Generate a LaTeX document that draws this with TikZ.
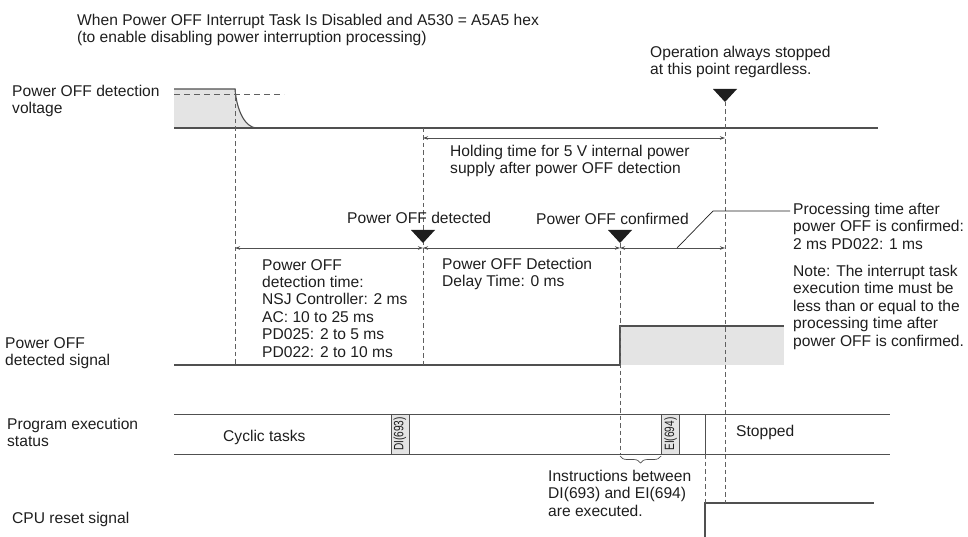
\documentclass[tikz,border=0pt]{standalone}
\usepackage{fontspec}
\setmainfont{Liberation Sans}
\usetikzlibrary{arrows.meta,decorations.pathreplacing}
\definecolor{ln}{HTML}{505050}
\definecolor{fl}{HTML}{E4E4E4}
\definecolor{dsh}{HTML}{606060}
\definecolor{tx}{HTML}{1E1E1E}
\tikzset{
  lbl/.style={anchor=north west, inner sep=0pt, align=left, text=tx, font={\fontsize{15.6}{17.4}\selectfont}},
  sig/.style={draw=ln, line width=1.1pt},
  guide/.style={draw=dsh, line width=0.8pt, dash pattern=on 4.5pt off 3pt},
  dimarrow/.style={draw=ln, line width=0.8pt, {Stealth[length=5pt,width=3.5pt]}-{Stealth[length=5pt,width=3.5pt]}},
  ibox/.style={draw=ln, fill=fl, line width=0.6pt, rotate=90, minimum width=40pt, minimum height=18pt, inner sep=0pt, text=tx, font={\fontsize{13.5}{13.5}\selectfont}},
  tridown/.pic={\fill[tx] (-12,-13) -- (12,-13) -- (0,0) -- cycle;}
}
\begin{document}
\begin{tikzpicture}[x=1pt,y=-1pt]
\useasboundingbox (0,0) rectangle (968,537);

% ---------- guide lines (dashed) ----------
\coordinate (g1top) at (235,89);  \coordinate (g1bot) at (235,365);
\coordinate (g2top) at (423,128); \coordinate (g2bot) at (423,365);
\coordinate (g3top) at (620,243); \coordinate (g3bot) at (620,454);
\coordinate (g4top) at (725,102); \coordinate (g4bot) at (725,503);
\coordinate (g5top) at (705,454); \coordinate (g5bot) at (705,503);

% ---------- Power OFF detection voltage ----------
\fill[fl] (174,89) -- (235,89) .. controls (237,113) and (246,127) .. (256,128) -- (174,128) -- cycle;
\draw[sig] (174,89) -- (235,89) .. controls (237,113) and (246,127) .. (256,128);
\draw[sig] (174,128) -- (878,128);
\draw[draw=dsh, line width=0.9pt, dash pattern=on 6pt off 4pt] (174,94) -- (284,94);

% ---------- Power OFF detected signal ----------
\fill[fl] (620,326) rectangle (784,365);
\draw[sig] (174,365) -- (620,365) -- (620,326) -- (784,326);

% ---------- Program execution status ----------
\draw[draw=ln, line width=1pt] (174,414) -- (890,414);
\draw[draw=ln, line width=1pt] (174,454) -- (890,454);
\draw[draw=ln, line width=1pt] (705,414) -- (705,454);
\node[ibox] (di) at (400,434) {\scalebox{0.75}[1]{DI(693)}};
\node[ibox] (ei) at (670.5,434) {\scalebox{0.75}[1]{EI(694)}};

% ---------- CPU reset signal ----------
\draw[sig] (705,537) -- (705,503) -- (874,503);

% dashed guides
\draw[guide] (g1top) -- (g1bot);
\draw[guide] (g2top) -- (g2bot);
\draw[guide] (g3top) -- (g3bot);
\draw[guide] (g4top) -- (g4bot);
\draw[guide] (g5top) -- (g5bot);

% ---------- markers ----------
\pic at (g4top) {tridown};
\pic at (423,243) {tridown};
\pic at (g3top) {tridown};

% ---------- dimension arrows ----------
\draw[dimarrow] (423,138) -- (725,138);
\draw[dimarrow] (235,248) -- (423,248);
\draw[dimarrow] (423,248) -- (620,248);
\draw[dimarrow] (620,248) -- (725,248);

% leader to processing time
\coordinate (leadA) at (677,248);
\coordinate (leadB) at (790,211);
\draw[draw=tx, line width=0.7pt] (leadA) -- (713,211) -- (leadB);

% brace
\draw[draw=ln, line width=0.7pt, decorate, decoration={brace, amplitude=7pt, mirror}] (620,456) -- (661,456);

% ---------- texts ----------
\node[lbl] (title) at (77,14) {When Power OFF Interrupt Task Is Disabled and A530 = A5A5 hex\\(to enable disabling power interruption processing)};
\node[lbl] (lv) at (12,85) {Power OFF detection\\voltage};
\node[lbl] (lds) at (5,337) {Power OFF\\detected signal};
\node[lbl] (lpe) at (7,418) {Program execution\\status};
\node[lbl] (lcpu) at (12,512) {CPU reset signal};
\node[lbl] (op) at (650,46) {Operation always stopped\\at this point regardless.};
\node[lbl] (hold) at (450,145) {Holding time for 5 V internal power\\supply after power OFF detection};
\node[lbl] (det) at (347,212) {Power OFF detected};
\node[lbl] (conf) at (536,213) {Power OFF confirmed};
\node[lbl] (dtime) at (262,259) {Power OFF\\detection time:\\NSJ Controller: 2 ms\\AC: 10 to 25 ms\\PD025: 2 to 5 ms\\PD022: 2 to 10 ms};
\node[lbl] (delay) at (442,258) {Power OFF Detection\\Delay Time: 0 ms};
\node[lbl] (proc) at (793,203) {Processing time after\\power OFF is confirmed:\\2 ms PD022: 1 ms};
\node[lbl] (note) at (793,265) {Note: The interrupt task\\execution time must be\\less than or equal to the\\processing time after\\power OFF is confirmed.};
\node[lbl] (cyc) at (223,430) {Cyclic tasks};
\node[lbl] (stop) at (736,425) {Stopped};
\node[lbl] (instr) at (548,470) {Instructions between\\DI(693) and EI(694)\\are executed.};
\end{tikzpicture}
\end{document}
